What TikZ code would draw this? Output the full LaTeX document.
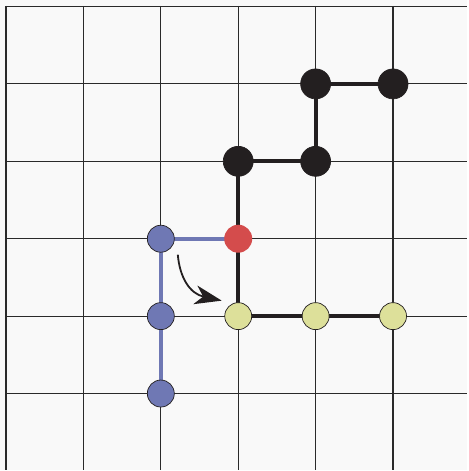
\documentclass[tikz,border=0pt]{standalone}
\usetikzlibrary{arrows.meta}
\definecolor{bg}{HTML}{F9F9F9}
\definecolor{gridc}{HTML}{2A2A2A}
\definecolor{blk}{HTML}{231F20}
\definecolor{bluec}{HTML}{6F78B4}
\definecolor{redc}{HTML}{D44C4C}
\definecolor{yelc}{HTML}{DDE09A}
\pgfdeclarelayer{back}
\pgfsetlayers{back,main}
\tikzset{
  site/.style={circle, draw=blk, line width=0.7pt, minimum size=27pt, inner sep=0pt},
  blacksite/.style={site, fill=blk, minimum size=30pt},
  bluesite/.style={site, fill=bluec},
  redsite/.style={circle, fill=redc, minimum size=28pt, inner sep=0pt},
  yelsite/.style={site, fill=yelc},
  gridline/.style={gridc, line width=1.1pt},
  chain/.style={blk, line width=4pt},
  bchain/.style={bluec, line width=4pt},
}
\begin{document}
\begin{tikzpicture}[x=1pt,y=-1pt]
% nodes
\node[blacksite] (b1) at (316,84) {};
\node[blacksite] (b2) at (393.5,84) {};
\node[blacksite] (b3) at (238.5,161.5) {};
\node[blacksite] (b4) at (316,161.5) {};
\node[redsite] (r) at (238.5,239) {};
\node[bluesite] (u1) at (161,239) {};
\node[bluesite] (u2) at (161,316.5) {};
\node[bluesite] (u3) at (161,394) {};
\node[yelsite] (y1) at (238.5,316.5) {};
\node[yelsite] (y2) at (316,316.5) {};
\node[yelsite] (y3) at (393.5,316.5) {};
\begin{pgfonlayer}{back}
\fill[bg] (0,0) rectangle (468,471);
\foreach \x in {6,83.5,161,238.5,316,393.5} \draw[gridline] (\x,6) -- (\x,471);
\foreach \y in {6.5,84,161.5,239,316.5,394} \draw[gridline] (6,\y) -- (468,\y);
\draw[chain] (b2.center) -- (b1.center) -- (b4.center) -- (b3.center) -- (r.center) -- (y1.center) -- (y2.center) -- (y3.center);
\draw[bchain] (r.center) -- (u1.center) -- (u2.center) -- (u3.center);
\end{pgfonlayer}
\useasboundingbox (0,0) rectangle (468,471);
% arrow
\coordinate (a0) at (178,255);
\coordinate (a1) at (222,301);
\draw[blk, line width=1.8pt, -{Stealth[length=27pt,width=19pt,inset=8pt]}] (a0) .. controls (180,278) and (190,294) .. (a1);
\end{tikzpicture}
\end{document}
